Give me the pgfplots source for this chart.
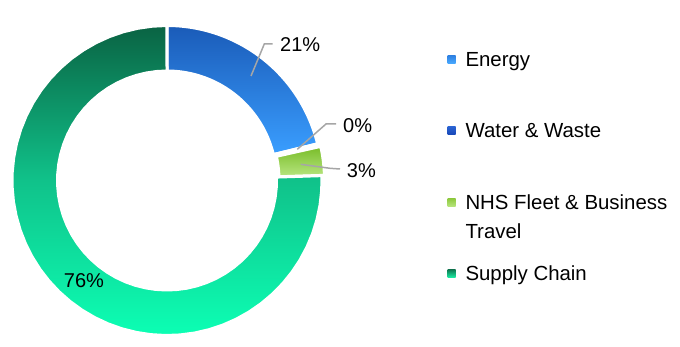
\documentclass[border=0pt]{standalone}
\usepackage{pgfplots}
\usepackage{pgfplotstable}
\pgfplotsset{compat=1.18}
\usepackage{fontspec}
\setmainfont{Liberation Sans}

\definecolor{enTop}{HTML}{1A5BB8}
\definecolor{enBot}{HTML}{3A9EFF}
\definecolor{waterC}{HTML}{1F55C4}
\definecolor{nhsTop}{HTML}{78BC28}
\definecolor{nhsBot}{HTML}{B8E680}
\definecolor{scTop}{HTML}{0A6343}
\definecolor{scMid}{HTML}{10C28A}
\definecolor{scBot}{HTML}{0CFFB4}
\definecolor{legEnT}{HTML}{2D7FE0}
\definecolor{legEnB}{HTML}{48A8FF}
\definecolor{legWaT}{HTML}{2A63D2}
\definecolor{legWaB}{HTML}{1848B8}
\definecolor{legNhT}{HTML}{8CC83C}
\definecolor{legNhB}{HTML}{B6E47C}
\definecolor{legScT}{HTML}{0E7A52}
\definecolor{legScB}{HTML}{1BF0A6}
\definecolor{leader}{HTML}{A6A6A6}

% shares in percent
\pgfplotstableread{
name value
Energy 21.2
Water 0.3
NHS 3.0
Supply 75.5
}\sharetable
\pgfplotstablegetelem{0}{value}\of\sharetable\let\vEnergy\pgfplotsretval
\pgfplotstablegetelem{1}{value}\of\sharetable\let\vWater\pgfplotsretval
\pgfplotstablegetelem{2}{value}\of\sharetable\let\vNHS\pgfplotsretval
\pgfplotstablegetelem{3}{value}\of\sharetable\let\vSupply\pgfplotsretval
\pgfmathsetmacro\aA{90}
\pgfmathsetmacro\aB{\aA-3.6*\vEnergy}
\pgfmathsetmacro\aC{\aB-3.6*\vWater}
\pgfmathsetmacro\aD{\aC-3.6*\vNHS}
\pgfmathsetmacro\aE{\aD-3.6*\vSupply}
\def\Ro{155}
\def\Ri{109.5}

\newcommand\lstrut[2]{\rule[-#2bp]{0pt}{\dimexpr#1bp+#2bp\relax}}

\newcommand\ringslice[3]{%
  \addplot[forget plot, draw=white, line width=3bp, line join=round,
    data cs=polar, samples at={0,1,...,50,100,101,...,150}, #3]
  ({(\x<75) ? (#1+(#2-#1)*\x/50) : (#2-(#2-#1)*(\x-100)/50)},
   {(\x<75) ? \Ro : \Ri}) -- cycle;
}

\begin{document}
\begin{tikzpicture}[font=\fontsize{20bp}{24bp}\selectfont]
\begin{axis}[
  scale only axis, width=680bp, height=346bp,
  xmin=-167, xmax=513, ymin=-165.5, ymax=180.5,
  hide axis, clip=false,
  legend style={at={(axis cs:280.3,134.5)}, anchor=north west,
    draw=none, fill=none, inner sep=0pt, row sep=0pt, column sep=10bp,
    cells={anchor=base west},
    nodes={inner sep=0pt, text depth=, text height=},
    font=\fontsize{20.4bp}{24bp}\selectfont},
]
\path (rel axis cs:0,0) rectangle (rel axis cs:1,1);

\ringslice{\aA}{\aB}{top color=enTop, bottom color=enBot}
\ringslice{\aB}{\aC}{fill=waterC}
\ringslice{\aC}{\aD}{top color=nhsTop, bottom color=nhsBot, xshift=2.5bp, yshift=0.3bp}
\ringslice{\aD}{\aE}{top color=scTop, bottom color=scBot, middle color=scMid}

% leader lines
\addplot[forget plot, leader, line width=1.5bp, mark=none] coordinates {(84,104.5) (97.3,136.5) (105.7,136.5)};
\addplot[forget plot, leader, line width=1.5bp, mark=none] coordinates {(130.3,31.2) (159,56.5) (169,56.5)};
\addplot[forget plot, leader, line width=1.5bp, mark=none] coordinates {(133.7,16.2) (163,12.2) (173,11.5)};

\node[anchor=west, inner sep=0pt] at (axis cs:113,135.5) {21\%};
\node[anchor=west, inner sep=0pt] at (axis cs:176,54.5) {0\%};
\node[anchor=west, inner sep=0pt] at (axis cs:179.7,9.5) {3\%};
\node[inner sep=0pt] at (axis cs:-83,-100.5) {76\%};

% legend
\addlegendimage{legend image code/.code={\path[draw=none,top color=legEnT,bottom color=legEnB] (0bp,3bp) rectangle (8bp,11bp);}}
\addlegendentry{\lstrut{20}{35.6}Energy}
\addlegendimage{legend image code/.code={\path[draw=none,top color=legWaT,bottom color=legWaB] (0bp,3bp) rectangle (8bp,11bp);}}
\addlegendentry{\lstrut{35.7}{35.9}Water \& Waste}
\addlegendimage{legend image code/.code={\path[draw=none,top color=legNhT,bottom color=legNhB] (0bp,3bp) rectangle (8bp,11bp);}}
\addlegendentry{\lstrut{35.8}{14.2}NHS Fleet \& Business}
\addlegendimage{legend image code/.code={}}
\addlegendentry{\lstrut{14.3}{14.2}Travel}
\addlegendimage{legend image code/.code={\path[draw=none,top color=legScT,bottom color=legScB] (0bp,3bp) rectangle (8bp,11bp);}}
\addlegendentry{\lstrut{28.3}{10}Supply Chain}
\end{axis}
\end{tikzpicture}
\end{document}
